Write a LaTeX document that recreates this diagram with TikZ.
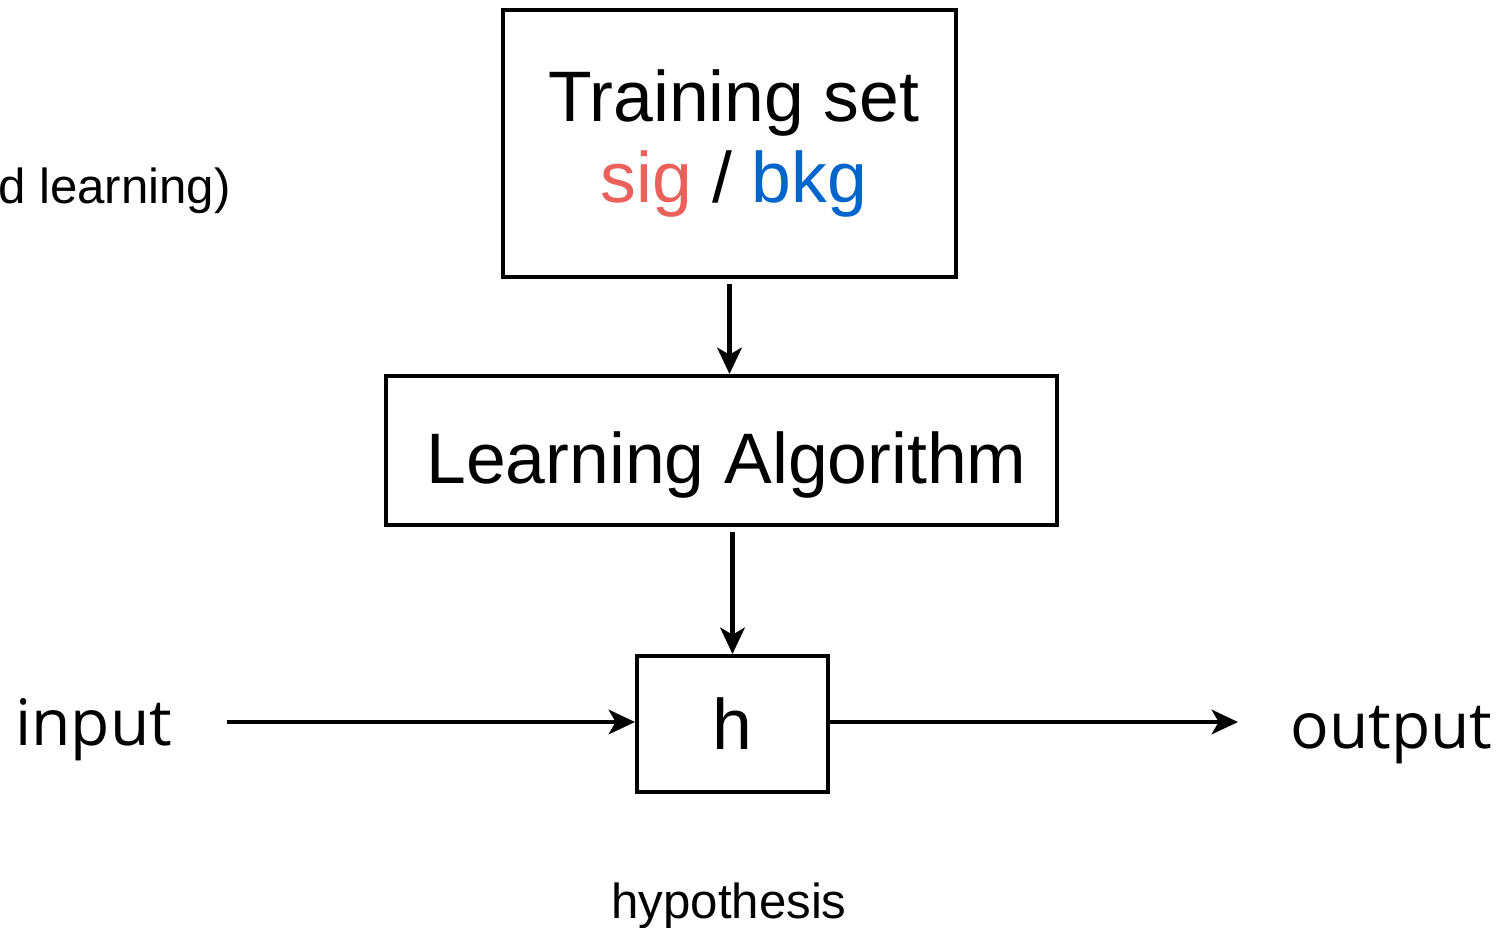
\documentclass[tikz,border=0pt]{standalone}
\usepackage{fontspec}
\setmainfont{Liberation Sans}
\newfontfamily\iofont{Open Sans}
\usepackage{tikz}
\usetikzlibrary{arrows.meta}
\definecolor{sigred}{RGB}{234,96,90}
\definecolor{bkgblue}{RGB}{0,102,204}

\begin{document}
\begin{tikzpicture}[x=0.02cm,y=-0.02cm,
        box/.style={draw=black,line width=2.3pt,rectangle,inner sep=0pt,align=center},
        arr/.style={line width=2.3pt,-{Stealth[length=15pt,width=14pt,inset=4pt]}},
        bigtext/.style={font=\fontsize{40.7}{46.6}\selectfont},
        smalltext/.style={font=\fontsize{28}{32}\selectfont,inner sep=0pt},
        iotext/.style={font=\iofont\fontsize{36.5}{40}\selectfont,inner sep=0pt}]
        \useasboundingbox (0,0) rectangle (1502,927);
        \node[box,bigtext,minimum width=9.06cm,minimum height=5.34cm] (train) at (729.5,143.5)
                {\hspace*{0.18cm}Training set\\ \hspace*{0.18cm}\textcolor{sigred}{sig} / \textcolor{bkgblue}{bkg}};
        \node[box,bigtext,minimum width=13.42cm,minimum height=2.98cm,text height=38pt,text depth=0pt] (algo) at (721.5,450.5)
                {\hspace*{0.2cm}Learning Algorithm};
        \node[box,bigtext,minimum width=3.82cm,minimum height=2.72cm] (h) at (732.5,724) {h};
        \node[smalltext,anchor=base east] (mode) at (231,203) {d learning)};
        \node[smalltext,anchor=base] (hyp) at (729,918) {hypothesis};
        \node[iotext,anchor=base west] (inp) at (15,745) {input};
        \node[iotext,anchor=base west] (outp) at (1290,748) {output};
        \coordinate (instart) at (227,722);
        \coordinate (outend) at (1238,722);
        \draw[arr,shorten <=3pt] (train.south) -- (train.south |- algo.north);
        \draw[arr,shorten <=3pt] (h.north |- algo.south) -- (h.north);
        \draw[arr] (instart) -- (h.west |- instart);
        \draw[arr] (h.east |- outend) -- (outend);
\end{tikzpicture}
\end{document}
